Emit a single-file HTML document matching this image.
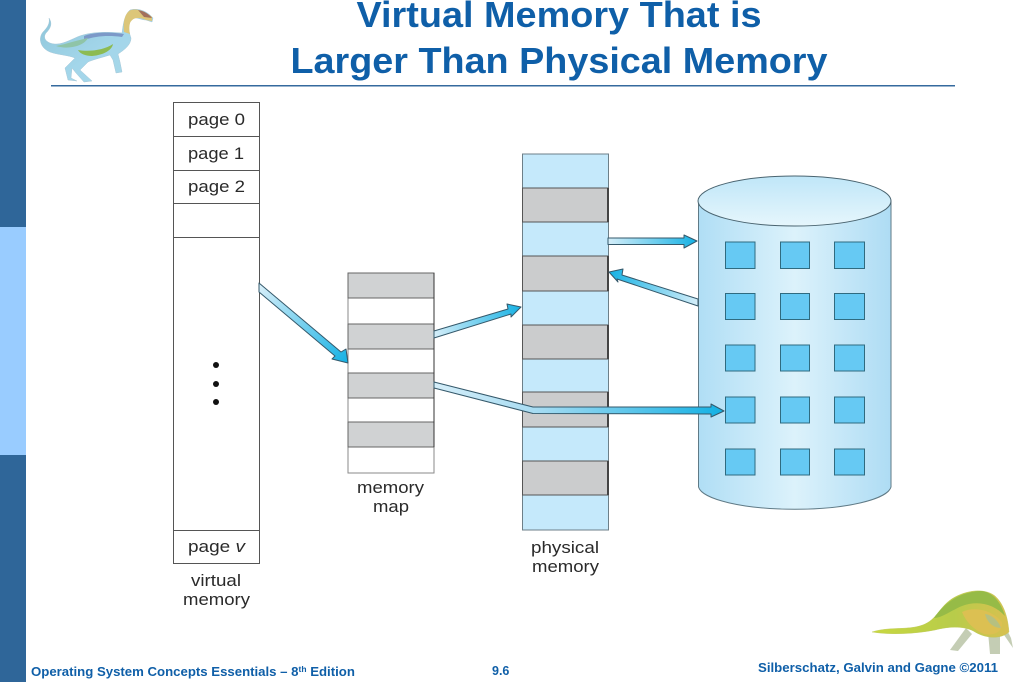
<!DOCTYPE html>
<html>
<head>
<meta charset="utf-8">
<style>
html,body{margin:0;padding:0;background:#fff;width:1023px;height:682px;overflow:hidden}
svg{display:block}
text{font-family:"Liberation Sans",sans-serif}
</style>
</head>
<body>
<svg width="1023" height="682" viewBox="0 0 1023 682" xmlns="http://www.w3.org/2000/svg">
<defs>
<linearGradient id="cyl" x1="0" x2="1" y1="0" y2="0">
<stop offset="0" stop-color="#b0def5"/><stop offset=".5" stop-color="#dcf2fb"/><stop offset="1" stop-color="#aedcf4"/>
</linearGradient>
<linearGradient id="top" x1="0" x2="0" y1="0" y2="1">
<stop offset="0" stop-color="#bfe6f8"/><stop offset="1" stop-color="#e6f6fc"/>
</linearGradient>
<linearGradient id="a1" gradientUnits="userSpaceOnUse" x1="259" y1="288" x2="348" y2="363">
<stop offset="0" stop-color="#d5eef9"/><stop offset="1" stop-color="#14b1e4"/>
</linearGradient>
<linearGradient id="a2" gradientUnits="userSpaceOnUse" x1="434" y1="333" x2="522" y2="306">
<stop offset="0" stop-color="#d5eef9"/><stop offset="1" stop-color="#14b1e4"/>
</linearGradient>
<linearGradient id="a3" gradientUnits="userSpaceOnUse" x1="608" y1="241" x2="697" y2="241">
<stop offset="0" stop-color="#d5eef9"/><stop offset="1" stop-color="#14b1e4"/>
</linearGradient>
<linearGradient id="a4" gradientUnits="userSpaceOnUse" x1="698" y1="302" x2="609" y2="272">
<stop offset="0" stop-color="#d5eef9"/><stop offset="1" stop-color="#14b1e4"/>
</linearGradient>
<linearGradient id="a5" gradientUnits="userSpaceOnUse" x1="434" y1="385" x2="723" y2="410">
<stop offset="0" stop-color="#d5eef9"/><stop offset=".35" stop-color="#a8dcf2"/><stop offset="1" stop-color="#14b1e4"/>
</linearGradient>
<linearGradient id="d1" x1="0" x2="1" y1="0" y2="1">
<stop offset="0" stop-color="#8cc4d8"/><stop offset=".55" stop-color="#a3d6ea"/><stop offset="1" stop-color="#a8d8e8"/>
</linearGradient>
<linearGradient id="d2" x1="0" x2="1" y1="0" y2="0">
<stop offset="0" stop-color="#c8d840"/><stop offset=".6" stop-color="#b8cc4a"/><stop offset="1" stop-color="#d8c050"/>
</linearGradient>
</defs>

<!-- sidebar -->
<rect x="0" y="0" width="26" height="227" fill="#2f6699"/>
<rect x="0" y="227" width="26" height="228" fill="#99ccff"/>
<rect x="0" y="455" width="26" height="227" fill="#2f6699"/>

<!-- title -->
<text x="559" y="27" font-size="36" font-weight="bold" fill="#0f5fa8" text-anchor="middle" textLength="405" lengthAdjust="spacingAndGlyphs">Virtual Memory That is</text>
<text x="559" y="73" font-size="36" font-weight="bold" fill="#0f5fa8" text-anchor="middle" textLength="537" lengthAdjust="spacingAndGlyphs">Larger Than Physical Memory</text>
<rect x="51" y="85" width="904" height="1.5" fill="#356a9e"/>

<!-- top dinosaur -->
<g>
<path d="M49 18 C53 24 50 29 46 33 C43 37 45 41 50 43 C58 46 66 42 75 38 C85 33 100 31 122 33 C123 26 124 15 130 10 C137 8 146 10 153 18 L152 22 L146 20 C141 20 137 17 133 18 C128 22 128 30 131 38 C131 45 124 50 118 54 L120 62 L122 72 L116 73 L113 60 L110 55 C100 58 92 60 88 62 L80 70 L92 81 L84 82 L76 73 L72 68 L71 78 L77 81 L68 80 L65 68 L75 58 C68 55 58 55 50 52 C40 48 38 38 43 32 C48 27 50 23 49 18 Z" fill="url(#d1)" stroke="#a7c8d8" stroke-width=".5"/>
<path d="M78 50 C90 52 104 50 113 44 C112 50 104 55 92 56 C86 56 80 54 78 50 Z" fill="#8dbb52"/>
<path d="M124 32 C123 24 124 13 131 10 C138 8 146 12 152 17 L152 21 L146 20 C139 17 133 17 130 23 C129 27 129 30 130 34 Z" fill="#dcc679"/>
<path d="M138 10 C144 11 149 14 152 18 L144 17 Z" fill="#a2705c"/>
<path d="M84 36 C95 32 110 32 124 34 L122 37 C108 35 96 36 84 40 Z" fill="#7c99c8"/>
<path d="M56 46 C66 44 78 40 88 38 C84 46 68 50 56 46 Z" fill="#8fc4a8"/>
</g>

<!-- virtual memory -->
<rect x="173.5" y="102.5" width="86" height="461" fill="#fff" stroke="#555" stroke-width="1"/>
<g stroke="#555" stroke-width="1">
<line x1="173" x2="259" y1="136.5" y2="136.5"/>
<line x1="173" x2="259" y1="170.5" y2="170.5"/>
<line x1="173" x2="259" y1="203.5" y2="203.5"/>
<line x1="173" x2="259" y1="237.5" y2="237.5"/>
<line x1="173" x2="259" y1="530.5" y2="530.5"/>
</g>
<g font-size="17" fill="#2a2a2a" lengthAdjust="spacingAndGlyphs">
<text x="188" y="125" textLength="57" lengthAdjust="spacingAndGlyphs">page 0</text>
<text x="188" y="159" textLength="56" lengthAdjust="spacingAndGlyphs">page 1</text>
<text x="188" y="192" textLength="57" lengthAdjust="spacingAndGlyphs">page 2</text>
<text x="188" y="552" textLength="57" lengthAdjust="spacingAndGlyphs">page <tspan font-style="italic">v</tspan></text>
<text x="191" y="586" textLength="50" lengthAdjust="spacingAndGlyphs">virtual</text>
<text x="183" y="605" textLength="67" lengthAdjust="spacingAndGlyphs">memory</text>
<text x="357" y="493" textLength="67" lengthAdjust="spacingAndGlyphs">memory</text>
<text x="373" y="512" textLength="36" lengthAdjust="spacingAndGlyphs">map</text>
<text x="531" y="553" textLength="68" lengthAdjust="spacingAndGlyphs">physical</text>
<text x="532" y="572" textLength="67" lengthAdjust="spacingAndGlyphs">memory</text>
</g>
<circle cx="216" cy="365" r="3" fill="#111"/>
<circle cx="216" cy="384" r="3" fill="#111"/>
<circle cx="216" cy="402" r="3" fill="#111"/>

<!-- memory map -->
<rect x="348" y="273" width="86" height="200" fill="#fff" stroke="#8a8a8a"/>
<g fill="#d0d2d3" stroke="#666" stroke-width="1">
<rect x="348" y="273" width="86" height="25"/>
<rect x="348" y="324" width="86" height="25"/>
<rect x="348" y="373" width="86" height="25"/>
<rect x="348" y="422" width="86" height="25"/>
</g>
<line x1="434" x2="434" y1="273" y2="447" stroke="#333" stroke-width="1"/>

<!-- physical memory -->
<rect x="522.5" y="154" width="86" height="376" fill="#c5e9fb" stroke="#6d7f88"/>
<g fill="#cbcccd" stroke="#555" stroke-width="1">
<rect x="522.5" y="188" width="85.5" height="34"/>
<rect x="522.5" y="256" width="85.5" height="35"/>
<rect x="522.5" y="325" width="85.5" height="34"/>
<rect x="522.5" y="392" width="85.5" height="35"/>
<rect x="522.5" y="461" width="85.5" height="34"/>
</g>
<g fill="#444">
<rect x="607" y="188" width="2" height="34"/>
<rect x="607" y="256" width="2" height="35"/>
<rect x="607" y="325" width="2" height="34"/>
<rect x="607" y="392" width="2" height="35"/>
<rect x="607" y="461" width="2" height="34"/>
</g>

<!-- disk cylinder -->
<path d="M698.5 201 V487 A96.5 24 0 0 0 891 487 V201 Z" fill="url(#cyl)" stroke="#5f7a86" stroke-width="1"/>
<ellipse cx="794.5" cy="201" rx="96.5" ry="25" fill="url(#top)" stroke="#4a6470" stroke-width="1"/>
<g fill="#66c9f3" stroke="#2f6b80" stroke-width="1">
<rect x="725.5" y="242" width="29.5" height="26.5"/><rect x="780.5" y="242" width="29" height="26.5"/><rect x="834.5" y="242" width="30" height="26.5"/>
<rect x="725.5" y="293.5" width="29.5" height="26"/><rect x="780.5" y="293.5" width="29" height="26"/><rect x="834.5" y="293.5" width="30" height="26"/>
<rect x="725.5" y="345" width="29.5" height="26"/><rect x="780.5" y="345" width="29" height="26"/><rect x="834.5" y="345" width="30" height="26"/>
<rect x="725.5" y="397" width="29.5" height="26"/><rect x="780.5" y="397" width="29" height="26"/><rect x="834.5" y="397" width="30" height="26"/>
<rect x="725.5" y="449" width="29.5" height="26"/><rect x="780.5" y="449" width="29" height="26"/><rect x="834.5" y="449" width="30" height="26"/>
</g>

<!-- arrows -->
<g stroke="#35596b" stroke-width="1" stroke-linejoin="round">
<polygon points="259,283 341,352 346,349 348,363 332,359 335,356 259,292" fill="url(#a1)"/>
<polygon points="434,331 508,309 507,304 521,307 511,317 511,314 434,338" fill="url(#a2)"/>
<polygon points="608,238 684,238 684,235 697,241 684,248 684,244.5 608,244.5" fill="url(#a3)"/>
<polygon points="698,299 622,275 623,269 609,272 618,282 617,279 698,306" fill="url(#a4)"/>
<polygon points="434,382 533,407 711,407 711,404 724,411 711,417 711,414 533,413.5 434,388" fill="url(#a5)"/>
</g>

<!-- bottom dinosaur -->
<g>
<path d="M966 628 L950 650 L958 651 L972 634 Z" fill="#c4cdb4"/>
<path d="M988 632 L990 654 L1000 654 L1000 632 Z M1002 632 L1013 648 L1011 638 L1006 628 Z" fill="#c4cdb4"/>
<path d="M872 632 C890 626 910 631 925 624 C938 618 940 605 955 597 C968 590 985 588 995 596 C1004 604 1008 618 1009 632 C1000 640 985 638 975 632 C966 626 950 626 935 630 C915 634 890 635 872 632 Z" fill="url(#d2)" stroke="#bcc858" stroke-width=".4"/>
<path d="M934 618 C944 603 960 592 980 591 C992 591 1001 602 1005 616 C994 604 978 600 962 606 C952 610 942 618 934 618 Z" fill="#96bb47"/>
<path d="M962 612 C975 606 992 610 1002 622 C1003 632 994 636 984 634 C974 630 966 622 962 612 Z" fill="#dcc052"/>
<path d="M985 614 C992 615 998 620 1001 628 C993 628 987 622 985 614 Z" fill="#b6c080"/>
</g>

<!-- footer -->
<text x="31" y="676" font-size="13.2" font-weight="bold" fill="#0f5fa8">Operating System Concepts Essentials – 8<tspan font-size="8.5" dy="-4">th</tspan><tspan dy="4"> Edition</tspan></text>
<text x="492" y="675" font-size="12.5" font-weight="bold" fill="#0f5fa8">9.6</text>
<text x="758" y="672" font-size="12.5" font-weight="bold" fill="#0f5fa8" textLength="240" lengthAdjust="spacingAndGlyphs">Silberschatz, Galvin and Gagne ©2011</text>
</svg>
</body>
</html>
